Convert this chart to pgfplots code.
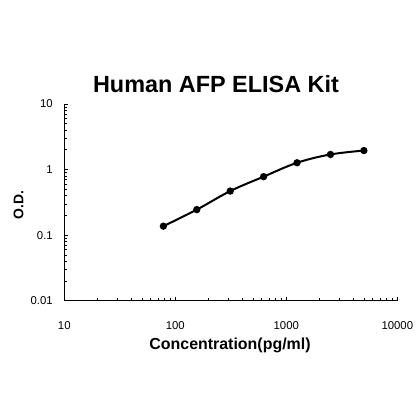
\documentclass[border=0pt]{standalone}
\usepackage{fontspec}
\setmainfont{Liberation Sans}
\usepackage{pgfplots}
\pgfplotsset{compat=1.18}

\begin{document}
\begin{tikzpicture}
\path[use as bounding box] (0bp,0bp) rectangle (420bp,420bp);
\begin{axis}[
  at={(64.3bp,119.3bp)}, anchor=south west,
  scale only axis, width=333bp, height=196.7bp,
  xmode=log, ymode=log,
  xmin=10, xmax=10000, ymin=0.01, ymax=10,
  axis x line*=bottom, axis y line*=left,
  axis line style={-, line width=1bp},
  tick align=inside,
  major tick length=4bp, minor tick length=2.5bp,
  tick style={black, line width=0.7bp},
  xtick={10,100,1000,10000}, xticklabels={10,100,1000,10000},
  ytick={0.01,0.1,1,10}, yticklabels={0.01,0.1,1,10},
  minor xtick={20,30,40,50,60,70,80,90,200,300,400,500,600,700,800,900,2000,3000,4000,5000,6000,7000,8000,9000},
  minor ytick={0.02,0.03,0.04,0.05,0.06,0.07,0.08,0.09,0.2,0.3,0.4,0.5,0.6,0.7,0.8,0.9,2,3,4,5,6,7,8,9},
  tick label style={font=\fontsize{11.4}{13}\selectfont},
  xticklabel style={yshift=-17bp},
  yticklabel style={xshift=-8bp},
  clip=false,
]
% standard curve
\addplot[black, line width=2bp, smooth, tension=0.6, mark=*, mark size=2.6bp] coordinates {
  (78.125,0.137) (156.25,0.245) (312.5,0.47) (625,0.78) (1250,1.27) (2500,1.70) (5000,1.95)
};
\end{axis}
\node[font=\bfseries\fontsize{23.5}{26}\selectfont] at (216bp,336bp) {Human AFP ELISA Kit};
\node[font=\bfseries\fontsize{16}{18}\selectfont] at (230bp,75bp) {Concentration(pg/ml)};
\node[font=\bfseries\fontsize{14}{16}\selectfont, rotate=90] at (18.5bp,215bp) {O.D.};
\end{tikzpicture}
\end{document}
